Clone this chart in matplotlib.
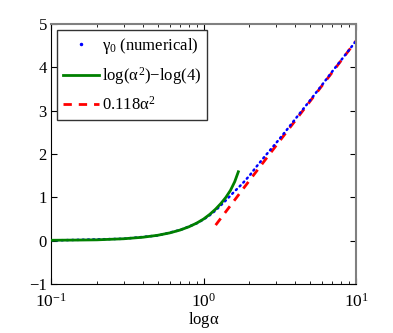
import matplotlib
matplotlib.use("Agg")
import matplotlib.pyplot as plt
from matplotlib.lines import Line2D

plt.rcParams['font.family'] = ['Liberation Serif', 'DejaVu Serif']
plt.rcParams['mathtext.fontset'] = 'custom'
plt.rcParams['mathtext.rm'] = 'Liberation Serif'
plt.rcParams['mathtext.it'] = 'Liberation Serif'
plt.rcParams['mathtext.bf'] = 'Liberation Serif:bold'

# numerical gamma_0
alpha_num = [0.1, 0.3, 0.5, 0.7, 0.9, 1.0, 1.1, 1.2, 1.3, 1.4, 1.5, 1.6, 1.8, 2.0,
             2.2, 2.5, 3.0, 3.5, 4.0, 5.0, 6.0, 7.0, 8.0, 9.0, 10.0]
gamma_num = [0.005, 0.045, 0.12, 0.245, 0.40, 0.49, 0.59, 0.70, 0.82, 0.93, 1.04, 1.14,
             1.32, 1.50, 1.69, 1.93, 2.26, 2.55, 2.81, 3.24, 3.60, 3.91, 4.17, 4.40, 4.61]

# green curve
alpha_g = [0.1, 0.15, 0.2, 0.3, 0.4, 0.5, 0.6, 0.7, 0.8, 0.9, 1.0, 1.1, 1.2, 1.3,
           1.4, 1.5, 1.6, 1.69]
y_g = [0.01, 0.015, 0.02, 0.045, 0.08, 0.125, 0.18, 0.245, 0.32, 0.405, 0.5, 0.61,
       0.73, 0.86, 1.00, 1.16, 1.36, 1.59]

# red dashed asymptote
alpha_r = [1.2, 2.0, 3.0, 5.0, 7.0, 10.0]
y_r = [0.36, 1.39, 2.20, 3.22, 3.89, 4.61]

labels = [r'$\gamma_0$ (numerical)', r'log($\alpha^2$)$-$log(4)', r'0.118$\alpha^2$']

fig = plt.figure(figsize=(3.93, 3.33), dpi=100)
ax = fig.add_axes([0.130, 0.147, 0.776, 0.781])

ax.plot(alpha_num, gamma_num, color='#0000ff', linestyle=(0, (0.5, 1.6)), lw=1.8,
        dash_capstyle='round', zorder=2)
ax.plot(alpha_g, y_g, color='#008000', lw=2.0, zorder=3)
ax.plot(alpha_r, y_r, color='#ff0000', lw=2.0, linestyle=(0, (3, 2.5)), zorder=1)

ax.set_xscale('log')
ax.set_xlim(0.1, 10)
ax.set_ylim(-1, 5)
ax.set_yticks([-1, 0, 1, 2, 3, 4, 5])
ax.tick_params(which='both', direction='in', top=True, right=True)
ax.tick_params(axis='y', labelsize=12, pad=3)
ax.tick_params(axis='x', labelsize=12.5, pad=6)
ax.tick_params(which='major', length=4)
ax.tick_params(which='minor', length=2)
ax.set_xlabel(r'log$\alpha$', fontsize=12, va='center')
ax.xaxis.set_label_coords(0.5, -0.14)
for s in ['top', 'right']:
    ax.spines[s].set_color('#808080')
    ax.spines[s].set_linewidth(1.5)

handles = [Line2D([], [], color='#0000ff', marker='.', markersize=3, linestyle='none'),
           Line2D([], [], color='#008000', lw=2.0),
           Line2D([], [], color='#ff0000', lw=2.0, linestyle=(0, (3, 2.5)))]
leg = ax.legend(handles, labels, loc='upper left', fontsize=12, fancybox=False,
                framealpha=1, edgecolor='#333333', handlelength=2.2,
                labelspacing=0.55, borderaxespad=0.35, handletextpad=0.15,
                borderpad=0.35)
leg.get_frame().set_linewidth(1.0)

fig.savefig('out.png', dpi=100)
